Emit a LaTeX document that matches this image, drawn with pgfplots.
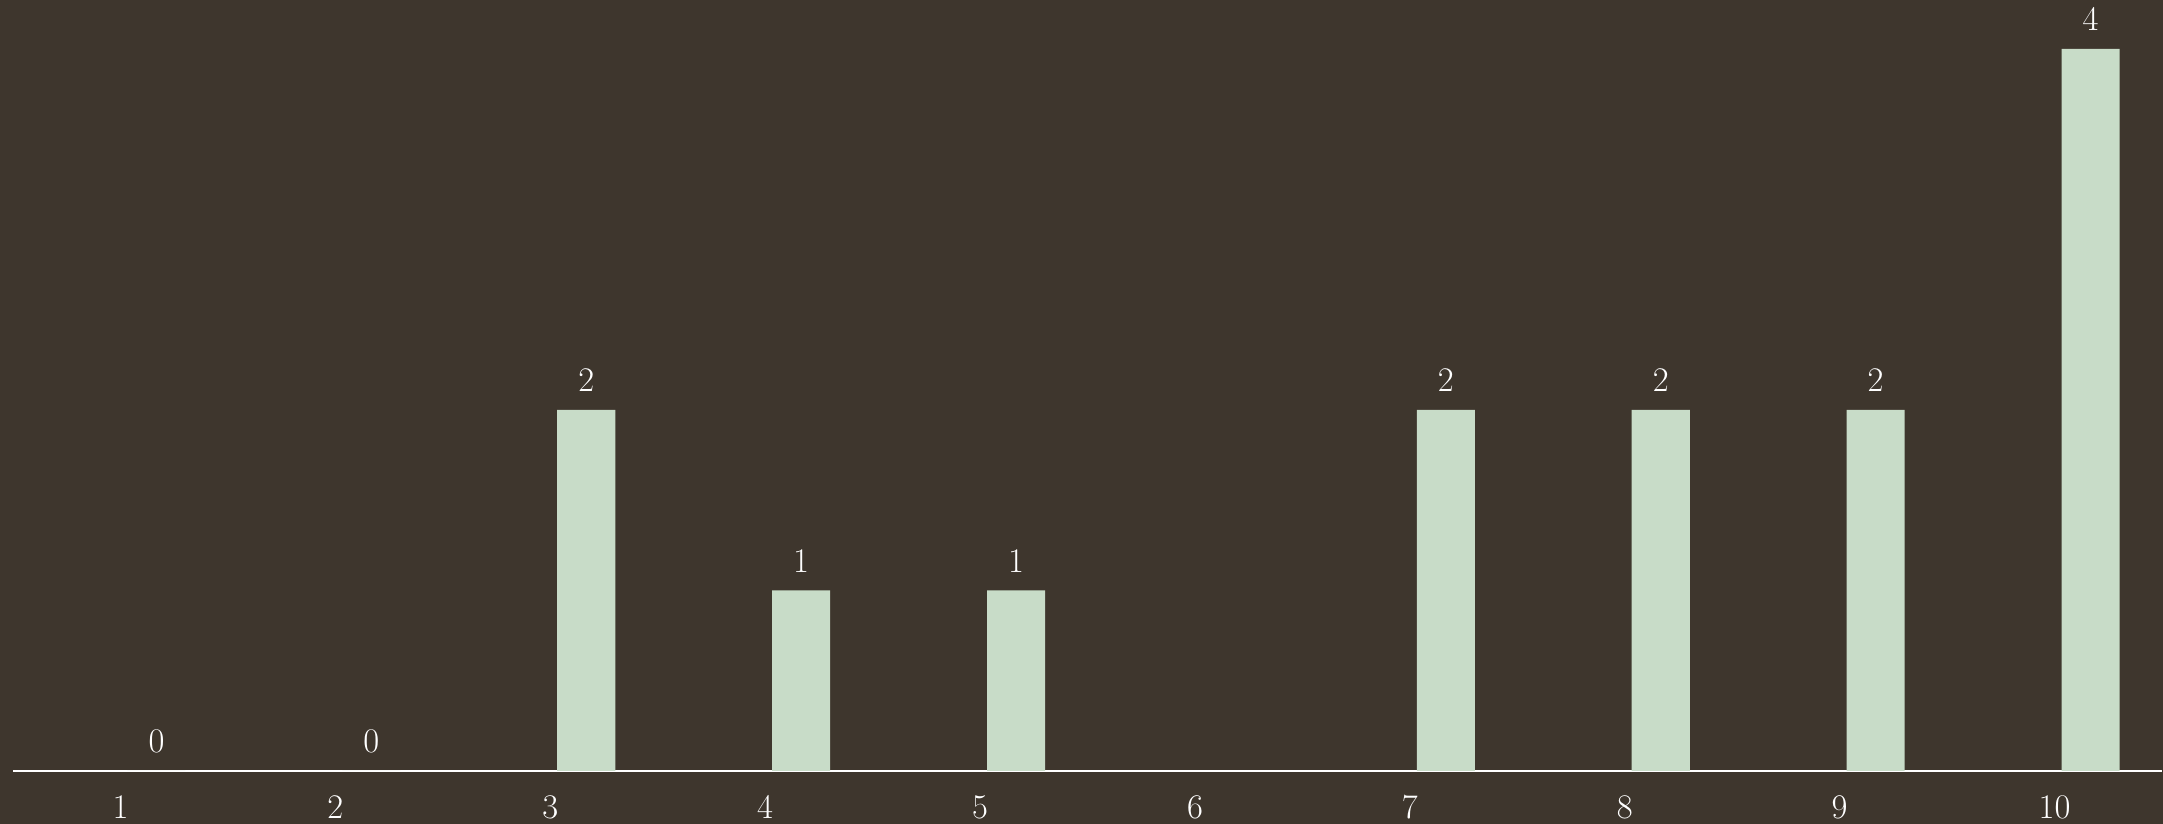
\documentclass[border=0pt]{standalone}
\usepackage{pgfplots}
\pgfplotsset{compat=1.18}
\definecolor{bg}{HTML}{3E362D}
\definecolor{barc}{HTML}{C8DCC8}
\begin{document}
\begin{tikzpicture}
% background, 1px = 0.5pt
\fill[bg] (-6.5pt,-26.5pt) rectangle (1075pt,385.5pt);
\begin{axis}[
    at={(0,0)}, anchor=south west,
    scale only axis,
    width=1074.5pt, height=361pt,
    xmin=0.5, xmax=10.5,
    ymin=0, ymax=4,
    clip=false,
    axis x line=bottom, axis y line=none,
    axis line style={white, line width=0.9pt, -},
    xtick={1,...,10},
    major tick length=0pt,
    xticklabel style={text=white, font=\fontsize{17}{20}\selectfont, anchor=center, yshift=-18pt},
    ybar,
    bar width=0.27,
    bar shift=0.1675,
    nodes near coords,
    nodes near coords style={text=white, font=\fontsize{17}{20}\selectfont, anchor=south, inner sep=0pt, yshift=9pt},
]
\addplot[fill=barc, draw=none] coordinates {(1,0) (2,0) (3,2) (4,1) (5,1) (7,2) (8,2) (9,2) (10,4)};
\end{axis}
\pgfresetboundingbox
\useasboundingbox (-6.5pt,-26.5pt) rectangle (1075pt,385.5pt);
\end{tikzpicture}
\end{document}
